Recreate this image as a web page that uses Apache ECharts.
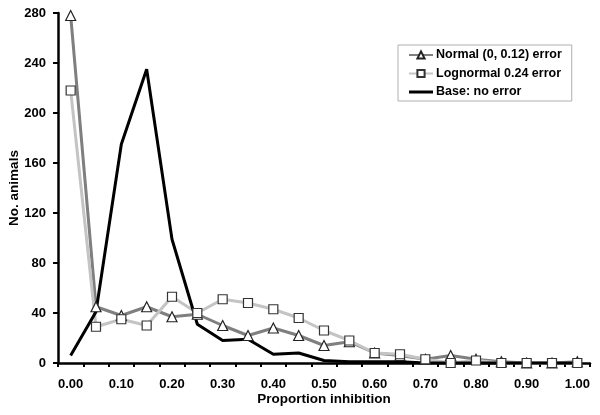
<!DOCTYPE html>
<html>
<head>
<meta charset="utf-8">
<script src="https://cdn.jsdelivr.net/npm/echarts@6/dist/echarts.min.js"></script>
<style>html,body{margin:0;padding:0;background:#fff}#c{width:600px;height:415px}</style>
</head>
<body>
<div id="c"></div>
<script>
const categories = ["0.00","0.05","0.10","0.15","0.20","0.25","0.30","0.35","0.40","0.45","0.50","0.55","0.60","0.65","0.70","0.75","0.80","0.85","0.90","0.95","1.00"];
const normalErr = [278,45,38,45,37,39,30,22,28,22,14,17,8,6,3,6,3,1,0,0,1];
const lognormalErr = [218,29,35,30,53,40,51,48,43,36,26,18,8,7,3,0,2,0,0,0,0];
const baseNoErr = [6,41,175,235,99,31,18,19,7,8,2,1,1,1,0,0,0,0,0,0,0];
const seriesNames = ["Normal (0, 0.12) error","Lognormal 0.24 error","Base: no error"];

const font = "'Liberation Sans', Arial, sans-serif";
const chart = echarts.init(document.getElementById('c'), null, {renderer:'canvas'});
chart.setOption({
  animation:false,
  backgroundColor:'#fff',
  grid:{left:58,right:10,top:13,bottom:52,containLabel:false,outerBoundsMode:'none'},
  legend:{
    orient:'vertical', left:398, top:45,
    padding:[3,10,2,10],
    borderColor:'#b0b0b0', borderWidth:1,
    itemWidth:24, itemHeight:9, itemGap:4.5,
    textStyle:{fontFamily:font,fontWeight:'bold',fontSize:12.5,color:'#000',padding:[0,0,0,-2],lineHeight:14},
    data:[
      {name:seriesNames[0]},
      {name:seriesNames[1]},
      {name:seriesNames[2], icon:'path://M0,0H24V3H0Z', itemStyle:{color:'#000'}}
    ]
  },
  xAxis:{
    type:'category', data:categories, boundaryGap:true,
    name:'Proportion inhibition', nameLocation:'middle', nameGap:29.5, nameMoveOverlap:false,
    nameTextStyle:{fontFamily:font,fontWeight:'bold',fontSize:13.5,color:'#000'},
    axisLine:{lineStyle:{color:'#000',width:2.5}},
    axisTick:{show:true,interval:0,length:4,lineStyle:{color:'#000',width:2}},
    axisLabel:{interval:1,fontFamily:font,fontWeight:'bold',fontSize:13,color:'#000',margin:15},
    splitLine:{show:false}
  },
  yAxis:{
    type:'value', min:0, max:280, interval:40,
    name:'No. animals', nameLocation:'middle', nameGap:37, nameMoveOverlap:false,
    nameTextStyle:{fontFamily:font,fontWeight:'bold',fontSize:13.5,color:'#000'},
    axisLine:{show:true,lineStyle:{color:'#000',width:2.5}},
    axisTick:{show:true,length:5,lineStyle:{color:'#000',width:2}},
    axisLabel:{fontFamily:font,fontWeight:'bold',fontSize:13,color:'#000',margin:12},
    splitLine:{show:false}
  },
  series:[
    {name:seriesNames[0],type:'line',data:normalErr,symbol:'triangle',symbolSize:10,
     lineStyle:{color:'#7f7f7f',width:3},itemStyle:{color:'#fff',borderColor:'#222',borderWidth:1.2},
     emphasis:{disabled:true}},
    {name:seriesNames[1],type:'line',data:lognormalErr,symbol:'rect',symbolSize:9,
     lineStyle:{color:'#c4c4c4',width:3},itemStyle:{color:'#fff',borderColor:'#333',borderWidth:1.2},
     emphasis:{disabled:true}},
    {name:seriesNames[2],type:'line',data:baseNoErr,symbol:'none',
     lineStyle:{color:'#000',width:3},itemStyle:{color:'#000'},
     emphasis:{disabled:true}}
  ]
});
</script>
</body>
</html>
